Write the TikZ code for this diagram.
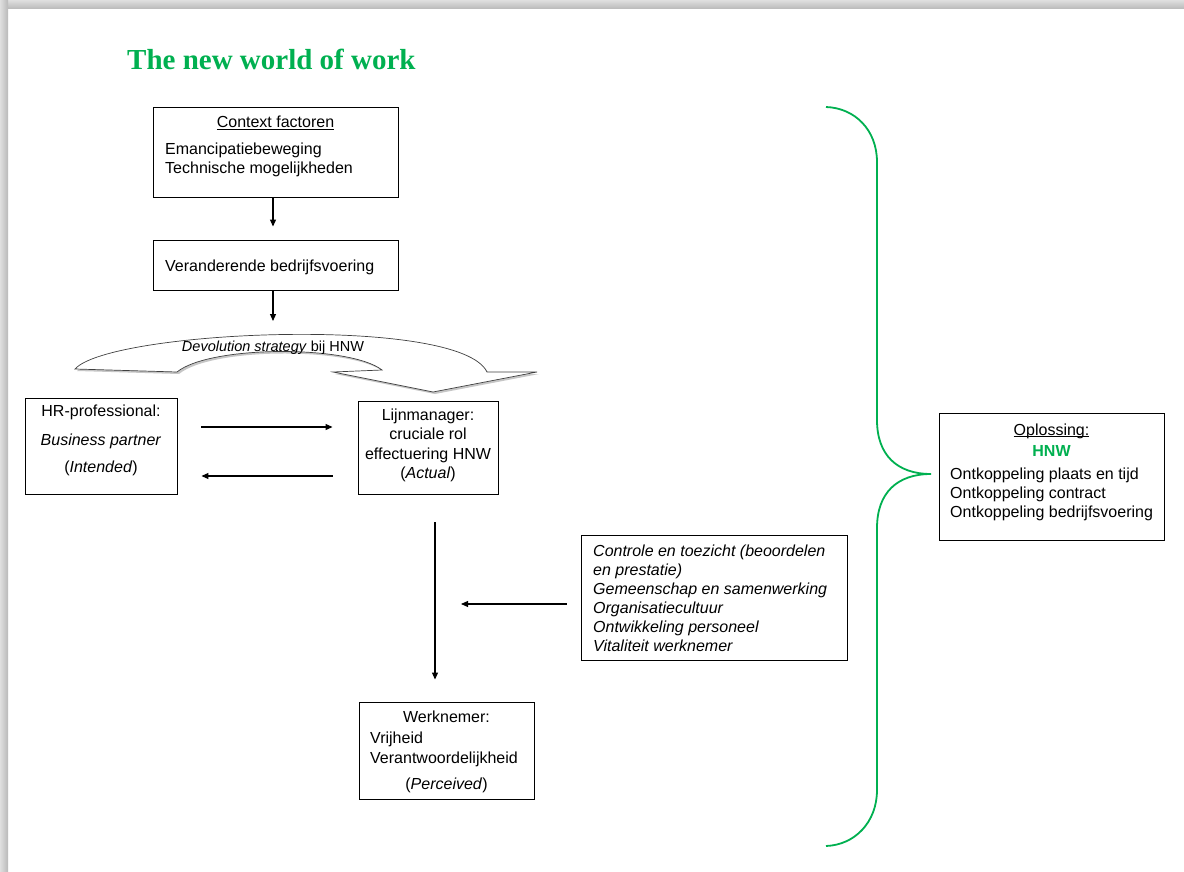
\documentclass[tikz,border=0pt]{standalone}
\usepackage{fontspec}
\setmainfont{Liberation Sans}
\newfontfamily\titlefont{Liberation Serif}
\usetikzlibrary{arrows.meta}
\definecolor{hgreen}{RGB}{0,176,80}
\newcommand{\myul}[1]{{\setbox0\hbox{#1}\rlap{\rule[-1.7pt]{\wd0}{0.7pt}}\box0}}
\begin{document}
\begin{tikzpicture}[x=1pt,y=-1pt,
  box/.style={draw=black, line width=0.9pt, inner sep=0pt, fill=white},
  txt/.style={inner sep=0pt, font=\fontsize{16}{19}\selectfont},
  arr/.style={line width=1.1pt, -{Triangle[length=7pt,width=6pt]}},
  brace/.style={draw=hgreen, line width=1.8pt}
]
\useasboundingbox (0,0) rectangle (1184,872);
\fill[white] (0,0) rectangle (1184,872);
\shade[top color=gray!25, bottom color=gray!55] (0,0) rectangle (1184,9);
\shade[left color=gray!25, right color=gray!55] (0,0) rectangle (8,872);

% title
\node[anchor=base west, inner sep=0pt, text=hgreen,
      font=\titlefont\bfseries\fontsize{29}{29}\selectfont] (title) at (127,70) {The new world of work};

% boxes
\node[box, minimum width=245pt, minimum height=90pt] (ctx) at (275.5,152) {};
\node[box, minimum width=245pt, minimum height=50pt] (ver) at (275.5,265) {};
\node[box, minimum width=152pt, minimum height=96pt] (hr) at (101,446) {};
\node[box, minimum width=140pt, minimum height=93pt] (lijn) at (428,447.5) {};
\node[box, minimum width=266pt, minimum height=125pt] (ctrl) at (714,597.5) {};
\node[box, minimum width=175pt, minimum height=97pt] (wk) at (446.5,750.5) {};
\node[box, minimum width=225pt, minimum height=127pt] (opl) at (1051.5,476.5) {};

% context texts
\node[txt, anchor=base] (ctx1) at (275.5,128) {\myul{Context factoren}};
\node[txt, anchor=base west] (ctx2) at (165,155) {Emancipatiebeweging};
\node[txt, anchor=base west] (ctx3) at (165,174) {Technische mogelijkheden};
\node[txt, anchor=base west] (ver1) at (165,271) {Veranderende bedrijfsvoering};

% HR texts
\node[txt, anchor=base] (hr1) at (101,416) {HR-professional:};
\node[txt, anchor=base] (hr2) at (101,445) {\textit{Business partner}};
\node[txt, anchor=base] (hr3) at (101,472) {(\textit{Intended})};

% Lijnmanager texts
\node[txt, anchor=base] (lm1) at (428,420) {Lijnmanager:};
\node[txt, anchor=base] (lm2) at (428,439) {cruciale rol};
\node[txt, anchor=base] (lm3) at (428,459) {effectuering HNW};
\node[txt, anchor=base] (lm4) at (428,478) {(\textit{Actual})};

% Controle texts
\node[txt, anchor=base west] (c1) at (593,556) {\textit{Controle en toezicht (beoordelen}};
\node[txt, anchor=base west] (c2) at (593,575) {\textit{en prestatie)}};
\node[txt, anchor=base west] (c3) at (593,594) {\textit{Gemeenschap en samenwerking}};
\node[txt, anchor=base west] (c4) at (593,613) {\textit{Organisatiecultuur}};
\node[txt, anchor=base west] (c5) at (593,632) {\textit{Ontwikkeling personeel}};
\node[txt, anchor=base west] (c6) at (593,651) {\textit{Vitaliteit werknemer}};

% Werknemer texts
\node[txt, anchor=base] (w1) at (446.5,722) {Werknemer:};
\node[txt, anchor=base west] (w2) at (370,743) {Vrijheid};
\node[txt, anchor=base west] (w3) at (370,763) {Verantwoordelijkheid};
\node[txt, anchor=base] (w4) at (446.5,789) {(\textit{Perceived})};

% Oplossing texts
\node[txt, anchor=base] (o1) at (1051.5,435) {\myul{Oplossing:}};
\node[txt, anchor=base, text=hgreen, font=\bfseries\fontsize{16}{19}\selectfont] (o2) at (1051.5,456) {HNW};
\node[txt, anchor=base west] (o3) at (950,479) {Ontkoppeling plaats en tijd};
\node[txt, anchor=base west] (o4) at (950,498) {Ontkoppeling contract};
\node[txt, anchor=base west] (o5) at (950,517) {Ontkoppeling bedrijfsvoering};

% curved devolution arrow
\def\devpath{(75,369) .. controls (110,330) and (460,315) .. (487,372) -- (537,372) -- (433,392) -- (333,372) -- (382,370) .. controls (350,345) and (210,345) .. (177,372) -- cycle}
\begin{scope}[shift={(2,2)}]
\fill[gray!45] \devpath;
\end{scope}
\draw[line width=0.7pt, draw=black!75, fill=white] \devpath;
\node[inner sep=0pt, anchor=base, font=\fontsize{14.5}{17}\selectfont] (devtxt) at (273,351) {\textit{Devolution strategy} bij HNW};
\coordinate (devtop) at (273,321);

% connectors
\draw[arr, shorten >=13pt] ([xshift=-2.5pt]ctx.south) -- ([xshift=-2.5pt]ver.north);
\draw[arr] ([xshift=-2.5pt]ver.south) -- (devtop);
\draw[arr, shorten <=24pt, shorten >=25pt] ([yshift=19pt]hr.east) -- ([yshift=20.5pt]lijn.west);
\draw[arr, shorten <=25pt, shorten >=24pt] ([yshift=-28.5pt]lijn.west) -- ([yshift=-30pt]hr.east);
\draw[arr, shorten <=28pt, shorten >=22pt] ([xshift=7pt]lijn.south) -- ([xshift=-11.5pt]wk.north);
\coordinate (vmid) at (435,604);
\draw[arr, shorten <=14pt, shorten >=26pt] ([yshift=-6.5pt]ctrl.west) -- (vmid);

% brace
\draw[brace] (826,107) .. controls (855,108) and (877,130) .. (877,162) -- (877,420)
  .. controls (877,455) and (897,474) .. (931,474)
  .. controls (897,474) and (877,493) .. (877,528) -- (877,790)
  .. controls (877,822) and (855,845) .. (826,846);
\end{tikzpicture}
\end{document}
